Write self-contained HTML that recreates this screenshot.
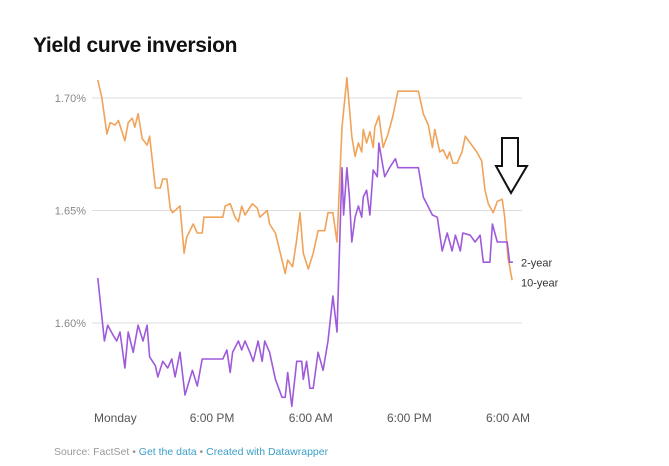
<!DOCTYPE html>
<html><head><meta charset="utf-8">
<style>
body{margin:0;width:669px;height:466px;background:#fff;overflow:hidden;font-family:"Liberation Sans",sans-serif;}
#title{position:absolute;left:33px;top:34px;font-size:21px;font-weight:bold;color:#111;letter-spacing:-0.3px;}
#footer{position:absolute;left:54px;top:446px;font-size:10.5px;color:#999;}
#footer a{color:#3a9fc9;text-decoration:none;}
svg{position:absolute;left:0;top:0;}
</style></head><body>
<div id="title">Yield curve inversion</div>
<svg id="chart" width="669" height="466"></svg>
<div id="footer">Source: FactSet • <a>Get the data</a> • <a>Created with Datawrapper</a></div>
<script>
const yTicks=[1.70,1.65,1.60];
const yTickLabels=["1.70%","1.65%","1.60%"];
const xTicks=[0,14,26,38,50];
const xTickLabels=["Monday","6:00 PM","6:00 AM","6:00 PM","6:00 AM"];
const tenYearTimes=[0.1,0.6,1.2,1.6,2.2,2.6,3.4,3.8,4.3,4.6,5.0,5.5,6.1,6.4,7.1,7.7,8.0,8.5,8.9,9.2,10.1,10.6,10.9,11.7,12.2,12.8,13.0,15.3,15.6,16.2,16.8,17.2,17.6,18.0,18.9,19.5,19.8,20.7,21.0,21.7,22.5,22.9,23.2,23.8,24.3,24.7,25.1,25.7,26.3,26.9,27.7,28.1,28.7,29.2,29.8,30.4,31.0,31.4,31.8,32.2,32.4,32.8,33.2,33.6,33.8,34.3,34.8,35.4,36.0,36.6,39.1,39.7,40.3,40.8,41.1,41.7,42.1,42.6,42.9,43.3,43.8,44.4,44.8,45.4,46.2,46.8,47.2,47.6,48.2,48.7,49.3,49.6,50.0,50.5];
const tenYearYields=[1.708,1.700,1.684,1.689,1.688,1.690,1.681,1.689,1.691,1.687,1.693,1.682,1.679,1.683,1.660,1.660,1.664,1.664,1.651,1.649,1.652,1.631,1.638,1.644,1.640,1.640,1.647,1.647,1.652,1.653,1.647,1.645,1.652,1.648,1.653,1.651,1.647,1.650,1.644,1.640,1.628,1.622,1.628,1.625,1.637,1.649,1.631,1.624,1.631,1.641,1.641,1.649,1.649,1.636,1.687,1.709,1.683,1.674,1.680,1.676,1.686,1.680,1.685,1.678,1.687,1.692,1.678,1.684,1.692,1.703,1.703,1.693,1.688,1.678,1.686,1.676,1.677,1.673,1.676,1.671,1.671,1.676,1.683,1.680,1.676,1.672,1.659,1.653,1.649,1.654,1.655,1.647,1.629,1.619];
const twoYearTimes=[0.1,0.5,0.9,1.3,1.9,2.4,2.8,3.4,3.8,4.4,5.0,5.6,6.1,6.4,7.1,7.4,8.0,8.6,9.1,9.5,10.1,10.7,11.6,12.2,12.8,15.3,15.8,16.2,16.5,17.2,17.6,18.0,18.6,19.0,19.6,20.1,20.4,21.0,21.7,22.5,22.9,23.2,23.7,24.3,24.9,25.1,25.5,25.9,26.3,26.9,27.5,28.1,28.7,29.2,29.8,30.0,30.4,30.7,31.0,31.4,31.8,32.2,32.4,32.8,33.2,33.6,34.1,34.3,35.0,35.6,36.3,36.6,39.1,39.7,40.8,41.4,42.0,42.6,43.2,43.6,44.2,44.5,45.4,46.0,46.6,47.0,47.8,48.1,48.7,49.4,49.9,50.2,50.6];
const twoYearYields=[1.620,1.606,1.592,1.599,1.595,1.592,1.596,1.580,1.596,1.587,1.599,1.592,1.599,1.585,1.581,1.576,1.583,1.580,1.584,1.576,1.587,1.568,1.579,1.572,1.584,1.584,1.588,1.578,1.587,1.592,1.588,1.592,1.587,1.583,1.592,1.583,1.592,1.587,1.575,1.567,1.567,1.578,1.563,1.583,1.583,1.575,1.583,1.571,1.571,1.587,1.579,1.592,1.612,1.596,1.669,1.648,1.669,1.656,1.636,1.647,1.652,1.647,1.656,1.659,1.648,1.668,1.665,1.680,1.665,1.669,1.673,1.669,1.669,1.656,1.648,1.647,1.632,1.640,1.632,1.639,1.632,1.640,1.639,1.636,1.639,1.627,1.627,1.644,1.636,1.636,1.636,1.627,1.627];

const NS="http://www.w3.org/2000/svg";
const svg=document.getElementById('chart');
function xS(t){return 97+t*8.22;}
function yS(v){return 98+(1.70-v)*2250;}
function mk(tag,attrs,parent){const e=document.createElementNS(NS,tag);for(const k in attrs)e.setAttribute(k,attrs[k]);(parent||svg).appendChild(e);return e;}

yTicks.forEach((v,i)=>{
  const g=mk('line',{x1:92,x2:522,y1:yS(v),y2:yS(v),stroke:'#dcdcdc','stroke-width':1});
  
  
  const t=mk('text',{x:86,y:yS(v)+4,'text-anchor':'end','font-size':11,fill:'#888','font-family':'Liberation Sans, sans-serif'});
  t.textContent=yTickLabels[i];
  
  
});
xTicks.forEach((v,i)=>{
  const t=mk('text',{x:i===0?94:xS(v),y:422,'text-anchor':i===0?'start':'middle','font-size':12,fill:'#555','font-family':'Liberation Sans, sans-serif'});
  t.textContent=xTickLabels[i];
  
  
});
function line(ts,vs,color,name){
  const n=Math.min(ts.length,vs.length);let d='';
  for(let i=0;i<n;i++)d+=(i?'L':'M')+xS(ts[i]).toFixed(1)+','+yS(vs[i]).toFixed(1);
  const p=mk('path',{d:d,fill:'none',stroke:color,'stroke-width':1.6,'stroke-linejoin':'round'});
  
  
  return n;
}
line(tenYearTimes,tenYearYields,'#f0a35a','ten-year-line');
const n2=line(twoYearTimes,twoYearYields,'#9e5adb','two-year-line');
const l1=mk('text',{x:521,y:yS(twoYearYields[n2-1])+4,'font-size':11,fill:'#333','font-family':'Liberation Sans, sans-serif'});
l1.textContent='2-year';


const l2=mk('text',{x:521,y:yS(twoYearYields[n2-1])+24,'font-size':11,fill:'#333','font-family':'Liberation Sans, sans-serif'});
l2.textContent='10-year';


const ar=mk('path',{d:'M502,138 L518,138 L518,166 L527,166 L511,193 L496,166 L502,166 Z',fill:'none',stroke:'#111','stroke-width':2,'stroke-linejoin':'miter'});


</script>
</body></html>
